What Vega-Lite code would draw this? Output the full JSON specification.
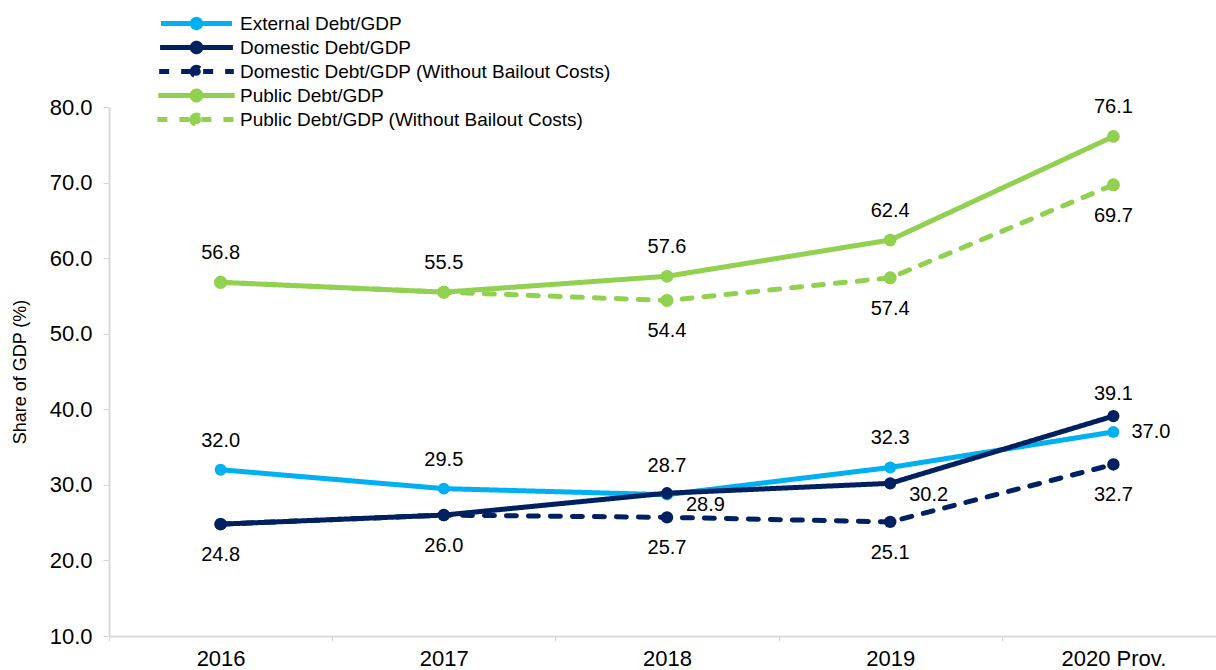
{
  "$schema": "https://vega.github.io/schema/vega-lite/v6.json",
  "width": 1107,
  "height": 529,
  "autosize": {"type": "none"},
  "padding": {"left": 109, "top": 107, "right": 0, "bottom": 34},
  "background": "white",
  "config": {
    "view": {"stroke": null},
    "font": "Liberation Sans",
    "text": {"font": "Liberation Sans"}
  },
  "data": {
    "values": [
      {"year": "2016", "series": "Public Debt/GDP (Without Bailout Costs)", "value": 56.8},
      {"year": "2017", "series": "Public Debt/GDP (Without Bailout Costs)", "value": 55.5},
      {"year": "2018", "series": "Public Debt/GDP (Without Bailout Costs)", "value": 54.4},
      {"year": "2019", "series": "Public Debt/GDP (Without Bailout Costs)", "value": 57.4},
      {"year": "2020 Prov.", "series": "Public Debt/GDP (Without Bailout Costs)", "value": 69.7},
      {"year": "2016", "series": "Public Debt/GDP", "value": 56.8},
      {"year": "2017", "series": "Public Debt/GDP", "value": 55.5},
      {"year": "2018", "series": "Public Debt/GDP", "value": 57.6},
      {"year": "2019", "series": "Public Debt/GDP", "value": 62.4},
      {"year": "2020 Prov.", "series": "Public Debt/GDP", "value": 76.1},
      {"year": "2016", "series": "Domestic Debt/GDP (Without Bailout Costs)", "value": 24.8},
      {"year": "2017", "series": "Domestic Debt/GDP (Without Bailout Costs)", "value": 26.0},
      {"year": "2018", "series": "Domestic Debt/GDP (Without Bailout Costs)", "value": 25.7},
      {"year": "2019", "series": "Domestic Debt/GDP (Without Bailout Costs)", "value": 25.1},
      {"year": "2020 Prov.", "series": "Domestic Debt/GDP (Without Bailout Costs)", "value": 32.7},
      {"year": "2016", "series": "External Debt/GDP", "value": 32.0},
      {"year": "2017", "series": "External Debt/GDP", "value": 29.5},
      {"year": "2018", "series": "External Debt/GDP", "value": 28.7},
      {"year": "2019", "series": "External Debt/GDP", "value": 32.3},
      {"year": "2020 Prov.", "series": "External Debt/GDP", "value": 37.0},
      {"year": "2016", "series": "Domestic Debt/GDP", "value": 24.8},
      {"year": "2017", "series": "Domestic Debt/GDP", "value": 26.0},
      {"year": "2018", "series": "Domestic Debt/GDP", "value": 28.9},
      {"year": "2019", "series": "Domestic Debt/GDP", "value": 30.2},
      {"year": "2020 Prov.", "series": "Domestic Debt/GDP", "value": 39.1}
    ]
  },
  "encoding": {
    "x": {
      "field": "year",
      "type": "nominal",
      "sort": ["2016", "2017", "2018", "2019", "2020 Prov."],
      "scale": {"type": "band", "range": [0, 1116], "paddingInner": 0, "paddingOuter": 0},
      "axis": {
        "title": null,
        "labelAngle": 0,
        "labelFontSize": 22,
        "labelColor": "#000000",
        "labelPadding": 7,
        "tickBand": "extent",
        "tickSize": 5,
        "tickColor": "#d9d9d9",
        "domainColor": "#d9d9d9",
        "domainWidth": 2,
        "grid": false
      }
    },
    "y": {
      "field": "value",
      "type": "quantitative",
      "scale": {"domain": [10, 80], "nice": false, "zero": false},
      "axis": {
        "title": "Share of GDP (%)",
        "titleFontSize": 18,
        "titleFontWeight": "normal",
        "titleColor": "#000000",
        "titlePadding": 20,
        "values": [10, 20, 30, 40, 50, 60, 70, 80],
        "format": ".1f",
        "labelFontSize": 22,
        "labelColor": "#000000",
        "labelPadding": 11,
        "tickSize": 6,
        "tickColor": "#d9d9d9",
        "domainColor": "#d9d9d9",
        "domainWidth": 2,
        "grid": false
      }
    }
  },
  "layer": [
    {
      "mark": {"type": "line", "strokeWidth": 5, "strokeCap": "round", "strokeJoin": "round"},
      "encoding": {
        "color": {
          "field": "series",
          "type": "nominal",
          "scale": {
            "domain": ["External Debt/GDP", "Domestic Debt/GDP", "Domestic Debt/GDP (Without Bailout Costs)", "Public Debt/GDP", "Public Debt/GDP (Without Bailout Costs)"],
            "range": ["#00B0F0", "#002060", "#002060", "#92D050", "#92D050"]
          },
          "legend": {
            "title": null,
            "orient": "none",
            "legendX": 78,
            "legendY": -93,
            "padding": 0,
            "symbolType": "M-6,0H6M-0.7,0A0.7,0.7,0,1,1,0.7,0A0.7,0.7,0,1,1,-0.7,0Z",
            "symbolSize": 144,
            "symbolStrokeWidth": 5,
            "labelFontSize": 19,
            "labelColor": "#000000",
            "labelFont": "Liberation Sans",
            "labelOffset": 34,
            "rowPadding": -8.5,
            "labelLimit": 600,
            "encode": {"symbols": {"update": {"fill": {"scale": "color", "field": "value"}}}}
          }
        },
        "strokeDash": {
          "field": "series",
          "type": "nominal",
          "scale": {
            "domain": ["External Debt/GDP", "Domestic Debt/GDP", "Domestic Debt/GDP (Without Bailout Costs)", "Public Debt/GDP", "Public Debt/GDP (Without Bailout Costs)"],
            "range": [[1, 0], [1, 0], [10, 12], [1, 0], [10, 12]]
          }
        }
      }
    },
    {
      "mark": {"type": "point", "filled": true, "shape": "circle", "opacity": 1},
      "encoding": {
        "color": {"field": "series", "type": "nominal"},
        "size": {
          "field": "series",
          "type": "nominal",
          "scale": {
            "domain": ["External Debt/GDP", "Domestic Debt/GDP", "Domestic Debt/GDP (Without Bailout Costs)", "Public Debt/GDP", "Public Debt/GDP (Without Bailout Costs)"],
            "range": [140, 170, 150, 170, 240]
          },
          "legend": null
        }
      }
    },
    {
      "transform": [{"filter": "(datum.series == 'External Debt/GDP' && datum.year != '2020 Prov.') || datum.series == 'Public Debt/GDP'"}],
      "mark": {"type": "text", "fontSize": 20, "dy": -29, "color": "#000000", "baseline": "middle"},
      "encoding": {"text": {"field": "value", "type": "quantitative", "format": ".1f"}}
    },
    {
      "transform": [{"filter": "datum.series == 'Domestic Debt/GDP' && datum.year == '2020 Prov.'"}],
      "mark": {"type": "text", "fontSize": 20, "dy": -22, "color": "#000000", "baseline": "middle"},
      "encoding": {"text": {"field": "value", "type": "quantitative", "format": ".1f"}}
    },
    {
      "transform": [{"filter": "datum.series == 'Domestic Debt/GDP (Without Bailout Costs)' || (datum.series == 'Public Debt/GDP (Without Bailout Costs)' && (datum.year == '2018' || datum.year == '2019' || datum.year == '2020 Prov.'))"}],
      "mark": {"type": "text", "fontSize": 20, "dy": 31, "color": "#000000", "baseline": "middle"},
      "encoding": {"text": {"field": "value", "type": "quantitative", "format": ".1f"}}
    },
    {
      "transform": [{"filter": "datum.series == 'External Debt/GDP' && datum.year == '2020 Prov.'"}],
      "mark": {"type": "text", "fontSize": 20, "dx": 18, "align": "left", "color": "#000000", "baseline": "middle"},
      "encoding": {"text": {"field": "value", "type": "quantitative", "format": ".1f"}}
    },
    {
      "transform": [{"filter": "datum.series == 'Domestic Debt/GDP' && (datum.year == '2018' || datum.year == '2019')"}],
      "mark": {"type": "text", "fontSize": 20, "dx": 19, "dy": 12, "align": "left", "color": "#000000", "baseline": "middle"},
      "encoding": {"text": {"field": "value", "type": "quantitative", "format": ".1f"}}
    }
  ]
}
